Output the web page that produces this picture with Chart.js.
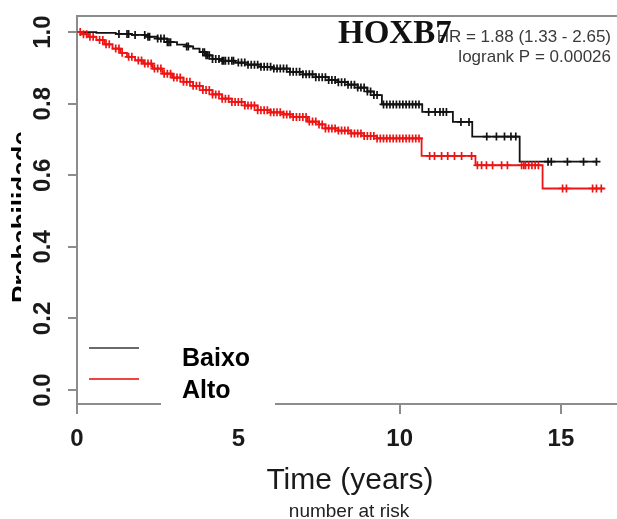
<!DOCTYPE html>
<html><head><meta charset="utf-8">
<script src="https://cdn.jsdelivr.net/npm/chart.js@4"></script>
<style>html,body{margin:0;padding:0;background:#fff}</style>
</head><body>
<canvas id="c" width="617" height="519" style="display:block;width:617px;height:519px"></canvas>
<script>
// ---- data ----
const xTicks = [0, 5, 10, 15];
const xTickLabels = ['0', '5', '10', '15'];
const yTicks = [0, 0.2, 0.4, 0.6, 0.8, 1.0];
const yTickLabels = ['0.0', '0.2', '0.4', '0.6', '0.8', '1.0'];
const seriesNames = ['Baixo', 'Alto'];
const geneName = 'HOXB7';
const statLines = ['HR = 1.88 (1.33 - 2.65)', 'logrank P = 0.00026'];
const xTitle = 'Time (years)';
const yTitle = 'Probabilidade';
const footText = 'number at risk';

const baixoTimes = [0, 0.6, 1.2, 1.7, 2.2, 2.5, 2.8, 3.1, 3.4, 3.6, 3.8, 4.0, 4.2, 4.5, 4.9, 5.3, 5.7, 6.1, 6.6, 7.0, 7.4, 7.8, 8.1, 8.4, 8.7, 9.0, 9.2, 9.45, 10.7, 11.65, 12.25, 13.72, 16.1];
const baixoSurv  = [1, 0.998, 0.995, 0.992, 0.987, 0.982, 0.972, 0.965, 0.960, 0.954, 0.944, 0.935, 0.925, 0.920, 0.915, 0.909, 0.903, 0.898, 0.889, 0.882, 0.874, 0.866, 0.860, 0.853, 0.845, 0.834, 0.824, 0.798, 0.777, 0.749, 0.708, 0.638, 0.638];
const altoTimes  = [0, 0.15, 0.35, 0.6, 0.85, 1.1, 1.35, 1.55, 1.8, 2.05, 2.35, 2.65, 2.95, 3.3, 3.6, 3.9, 4.2, 4.5, 4.8, 5.2, 5.6, 6.0, 6.4, 6.7, 7.15, 7.5, 7.7, 8.1, 8.5, 8.9, 9.3, 10.68, 12.35, 14.43, 16.35];
const altoSurv   = [1, 0.994, 0.987, 0.978, 0.966, 0.954, 0.942, 0.931, 0.921, 0.912, 0.898, 0.884, 0.873, 0.861, 0.850, 0.838, 0.826, 0.814, 0.805, 0.795, 0.782, 0.776, 0.770, 0.763, 0.750, 0.742, 0.731, 0.725, 0.717, 0.710, 0.703, 0.654, 0.628, 0.563, 0.563];

const baixoCensor = [1.3, 1.55, 1.6, 1.8, 2.1, 2.2, 2.25, 2.5, 2.6, 2.7, 2.8, 2.85, 2.9, 3.4, 3.45, 3.9, 3.95, 4.0, 4.05, 4.1, 4.2, 4.3, 4.4, 4.5, 4.55, 4.6, 4.7, 4.8, 4.85, 5.0, 5.1, 5.2, 5.3, 5.4, 5.5, 5.6, 5.7, 5.8, 5.9, 6.0, 6.1, 6.2, 6.3, 6.4, 6.5, 6.6, 6.7, 6.8, 6.9, 7.0, 7.1, 7.2, 7.3, 7.4, 7.5, 7.6, 7.7, 7.8, 7.9, 8.0, 8.1, 8.2, 8.3, 8.4, 8.5, 8.6, 8.7, 8.8, 8.9, 9.0, 9.1, 9.2, 9.3, 9.5, 9.6, 9.7, 9.8, 9.9, 10.0, 10.1, 10.2, 10.3, 10.4, 10.5, 10.6, 10.9, 11.1, 11.25, 11.35, 11.45, 11.9, 12.15, 12.7, 13.0, 13.25, 13.45, 13.6, 14.6, 14.7, 15.2, 15.7, 16.1];
const altoCensor  = [0.1, 0.2, 0.3, 0.4, 0.5, 0.7, 0.8, 0.9, 1.0, 1.2, 1.3, 1.4, 1.6, 1.7, 1.9, 2.0, 2.1, 2.2, 2.3, 2.4, 2.5, 2.6, 2.7, 2.8, 2.9, 3.0, 3.1, 3.2, 3.3, 3.4, 3.5, 3.6, 3.7, 3.8, 3.9, 4.0, 4.1, 4.2, 4.3, 4.4, 4.5, 4.6, 4.7, 4.8, 4.9, 5.0, 5.1, 5.2, 5.3, 5.4, 5.5, 5.6, 5.7, 5.8, 5.9, 6.0, 6.1, 6.2, 6.3, 6.4, 6.5, 6.6, 6.7, 6.8, 6.9, 7.0, 7.1, 7.2, 7.3, 7.4, 7.5, 7.6, 7.7, 7.8, 7.9, 8.0, 8.1, 8.2, 8.3, 8.4, 8.5, 8.6, 8.7, 8.8, 8.9, 9.0, 9.1, 9.2, 9.3, 9.4, 9.5, 9.6, 9.7, 9.8, 9.9, 10.0, 10.1, 10.2, 10.3, 10.4, 10.5, 10.6, 10.93, 11.08, 11.3, 11.49, 11.7, 11.92, 12.23, 12.41, 12.54, 12.69, 12.88, 13.16, 13.34, 13.78, 13.85, 13.9, 14.0, 14.1, 14.2, 14.3, 15.05, 15.17, 15.98, 16.1, 16.25];

// ---- helpers ----
function stepAt(times, surv, t) {
  let v = surv[0];
  for (let i = 0; i < times.length; i++) { if (times[i] <= t) v = surv[i]; }
  return v;
}
const RED = '#ee1414';
const BLACK = '#121212';
const AXIS = '#8c8c8c';

const overlay = {
  id: 'overlay',
  afterDraw(chart) {
    const ctx = chart.ctx;
    const a = chart.chartArea;
    const xs = chart.scales.x, ys = chart.scales.y;
    ctx.save();
    // frame lines continuing to the right edge
    ctx.strokeStyle = AXIS; ctx.lineWidth = 2;
    ctx.beginPath(); ctx.moveTo(a.left, a.top); ctx.lineTo(617, a.top); ctx.stroke();
    ctx.beginPath(); ctx.moveTo(a.right - 1, a.bottom); ctx.lineTo(617, a.bottom); ctx.stroke();
    // white legend box
    ctx.fillStyle = '#fff';
    ctx.fillRect(161, 336, 114, 80);
    // legend lines
    ctx.lineWidth = 2;
    ctx.strokeStyle = '#6a6a6a';
    ctx.beginPath(); ctx.moveTo(89, 348); ctx.lineTo(139, 348); ctx.stroke();
    ctx.strokeStyle = '#f04444';
    ctx.beginPath(); ctx.moveTo(89, 379); ctx.lineTo(139, 379); ctx.stroke();
    ctx.fillStyle = '#000';
    ctx.font = 'bold 25px "Liberation Sans", Arial, sans-serif';
    ctx.textAlign = 'left'; ctx.textBaseline = 'alphabetic';
    ctx.fillText(seriesNames[0], 182, 366);
    ctx.fillText(seriesNames[1], 182, 398);
    // x tick labels
    ctx.fillStyle = '#1a1a1a';
    ctx.font = 'bold 24px "Liberation Sans", Arial, sans-serif';
    ctx.textAlign = 'center'; ctx.textBaseline = 'alphabetic';
    xTicks.forEach((v, i) => ctx.fillText(xTickLabels[i], xs.getPixelForValue(v), 446));
    // y tick labels rotated
    yTicks.forEach((v, i) => {
      ctx.save();
      ctx.translate(50, ys.getPixelForValue(v));
      ctx.rotate(-Math.PI / 2);
      ctx.textAlign = 'center'; ctx.textBaseline = 'alphabetic';
      ctx.fillText(yTickLabels[i], 0, 0);
      ctx.restore();
    });
    // x title
    ctx.fillStyle = '#1a1a1a';
    ctx.font = '30px "Liberation Sans", Arial, sans-serif';
    ctx.textAlign = 'center';
    ctx.fillText(xTitle, 350, 489);
    ctx.font = '19px "Liberation Sans", Arial, sans-serif';
    ctx.fillStyle = '#222';
    ctx.fillText(footText, 349, 517);
    // y title (partially hidden)
    ctx.save();
    ctx.beginPath(); ctx.rect(0, 0, 21, 519); ctx.clip();
    ctx.translate(30, 217);
    ctx.rotate(-Math.PI / 2);
    ctx.fillStyle = '#000';
    ctx.font = 'bold 26px "Liberation Sans", Arial, sans-serif';
    ctx.textAlign = 'center'; ctx.textBaseline = 'alphabetic';
    ctx.fillText(yTitle, 0, 0);
    ctx.restore();
    // stats text
    ctx.fillStyle = '#3a3a3a';
    ctx.font = '17px "Liberation Sans", Arial, sans-serif';
    ctx.textAlign = 'right';
    ctx.fillText(statLines[0], 611, 42);
    ctx.fillText(statLines[1], 611, 62);
    // gene name
    ctx.fillStyle = '#111';
    ctx.font = 'bold 33px "Liberation Serif", "Times New Roman", serif';
    ctx.textAlign = 'left';
    ctx.fillText(geneName, 338, 43);
    ctx.restore();
  }
};

new Chart(document.getElementById('c'), {
  type: 'scatter',
  data: {
    datasets: [
      { label: seriesNames[1] + ' censored', data: altoCensor.map(t => ({ x: t, y: stepAt(altoTimes, altoSurv, t) })),
        showLine: false, pointStyle: 'cross', pointRadius: 4, borderColor: RED, backgroundColor: RED, borderWidth: 1.7 },
      { label: seriesNames[1], data: altoTimes.map((t, i) => ({ x: t, y: altoSurv[i] })),
        showLine: true, stepped: 'before', pointRadius: 0, borderColor: RED, borderWidth: 1.8 },
      { label: seriesNames[0] + ' censored', data: baixoCensor.map(t => ({ x: t, y: stepAt(baixoTimes, baixoSurv, t) })),
        showLine: false, pointStyle: 'cross', pointRadius: 4, borderColor: BLACK, backgroundColor: BLACK, borderWidth: 1.7 },
      { label: seriesNames[0], data: baixoTimes.map((t, i) => ({ x: t, y: baixoSurv[i] })),
        showLine: true, stepped: 'before', pointRadius: 0, borderColor: BLACK, borderWidth: 1.8 }
    ]
  },
  options: {
    responsive: false, animation: false, events: [],
    layout: { padding: { left: 68, top: 16, right: 0, bottom: 105 } },
    plugins: { legend: { display: false }, tooltip: { enabled: false } },
    scales: {
      x: { type: 'linear', min: 0, max: 16.56,
        afterBuildTicks: s => { s.ticks = xTicks.map(v => ({ value: v })); },
        ticks: { display: false },
        grid: { drawOnChartArea: false, drawTicks: true, tickLength: 10, color: AXIS, lineWidth: 2 },
        border: { display: true, color: AXIS, width: 2 } },
      y: { type: 'linear', min: -0.039, max: 1.045,
        afterBuildTicks: s => { s.ticks = yTicks.map(v => ({ value: v })); },
        ticks: { display: false },
        grid: { drawOnChartArea: false, drawTicks: true, tickLength: 9, color: AXIS, lineWidth: 2 },
        border: { display: true, color: AXIS, width: 2 } }
    }
  },
  plugins: [overlay]
});
</script>
</body></html>
